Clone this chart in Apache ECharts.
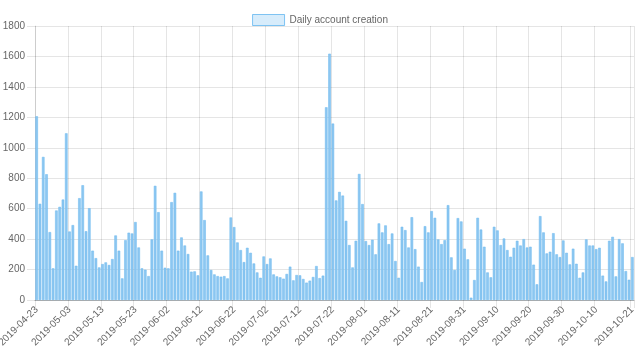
<!DOCTYPE html>
<html>
<head>
<meta charset="utf-8">
<script src="https://cdn.jsdelivr.net/npm/echarts@6/dist/echarts.min.js"></script>
<style>
html,body{margin:0;padding:0;background:#fff;}
#chart{width:640px;height:361px;}
</style>
</head>
<body>
<div id="chart"></div>
<script>
// Data
var startDate = '2019-04-23';
var dayCount = 182;
var seriesName = 'Daily account creation';
var values = [
1207,632,940,826,446,208,588,612,660,1095,
450,492,225,669,754,452,603,324,275,214,
236,247,230,269,424,324,142,393,442,437,
512,345,208,199,157,398,750,577,324,212,
208,643,704,324,411,358,302,186,188,162,
713,525,293,197,168,157,153,157,142,542,
479,378,328,249,343,310,240,181,146,286,
236,273,168,155,149,140,171,219,129,164,
162,138,114,127,151,223,144,160,1266,1618,
1159,654,710,686,520,361,214,389,828,630,
387,361,396,300,503,444,490,367,437,256,
146,481,459,345,544,334,219,118,485,444,
584,540,398,367,393,623,280,197,538,516,
337,267,15,131,540,463,350,181,149,481,
457,361,404,328,284,343,389,358,400,345,
350,232,103,551,444,306,317,439,300,282,
391,310,234,337,238,146,181,398,358,358,
334,343,160,122,389,415,155,400,372,190,
133,282
];
var tickLabels = ['2019-04-23','2019-05-03','2019-05-13','2019-05-23','2019-06-02','2019-06-12','2019-06-22','2019-07-02','2019-07-12','2019-07-22','2019-08-01','2019-08-11','2019-08-21','2019-08-31','2019-09-10','2019-09-20','2019-09-30','2019-10-10','2019-10-21'];
var yTicks = [0,200,400,600,800,1000,1200,1400,1600,1800];

// consecutive daily categories
function pad(n){return n<10?'0'+n:''+n;}
var categories = [];
var d0 = new Date(startDate + 'T00:00:00Z');
for (var i = 0; i < dayCount; i++) {
  var d = new Date(d0.getTime() + i*86400000);
  categories.push(d.getUTCFullYear()+'-'+pad(d.getUTCMonth()+1)+'-'+pad(d.getUTCDate()));
}
function isTick(idx){ return tickLabels.indexOf(categories[idx]) >= 0; }

var FONT = '"Liberation Sans", Arial, Helvetica, sans-serif';
var GRID = 'rgba(0,0,0,0.1)';
var chart = echarts.init(document.getElementById('chart'), null, {renderer:'canvas'});
chart.setOption({
  animation:false,
  backgroundColor:'#fff',
  textStyle:{fontFamily:FONT},
  legend:{
    top:9, left:'center',
    icon:'rect', itemWidth:32, itemHeight:11, itemGap:10,
    textStyle:{fontSize:10, color:'#666', fontFamily:FONT, padding:[0,0,0,0]},
    data:[{name:seriesName, itemStyle:{color:'rgba(54,162,235,0.2)', borderColor:'rgba(54,162,235,0.6)', borderWidth:1}}]
  },
  grid:{left:35, right:6, top:26, bottom:61, containLabel:false, outerBoundsMode:'none'},
  xAxis:{
    type:'category',
    data:categories,
    boundaryGap:true,
    axisLine:{show:true, lineStyle:{color:'rgba(0,0,0,0.25)', width:1}},
    axisTick:{show:true, length:8, interval:function(i){return isTick(i);}, lineStyle:{color:GRID}},
    splitLine:{show:true, interval:function(i){return isTick(i);}, lineStyle:{color:GRID, width:1}},
    axisLabel:{
      interval:function(i){return isTick(i);},
      rotate:45, fontSize:10, color:'#666', fontFamily:FONT, margin:8
    }
  },
  yAxis:{
    type:'value', min:0, max:yTicks[yTicks.length-1], interval:yTicks[1]-yTicks[0],
    axisLine:{show:true, lineStyle:{color:GRID}},
    axisTick:{show:true, length:8, lineStyle:{color:GRID}},
    splitLine:{show:true, lineStyle:{color:GRID}},
    axisLabel:{fontSize:10, color:'#666', fontFamily:FONT, margin:10, formatter:function(v){return String(v);}}
  },
  series:[{
    name:seriesName,
    type:'bar',
    data:values,
    barCategoryGap:'22%',
    itemStyle:{color:'#8dc7f1', borderColor:'#6bb8ee', borderWidth:0.5}
  }]
});
</script>
</body>
</html>
